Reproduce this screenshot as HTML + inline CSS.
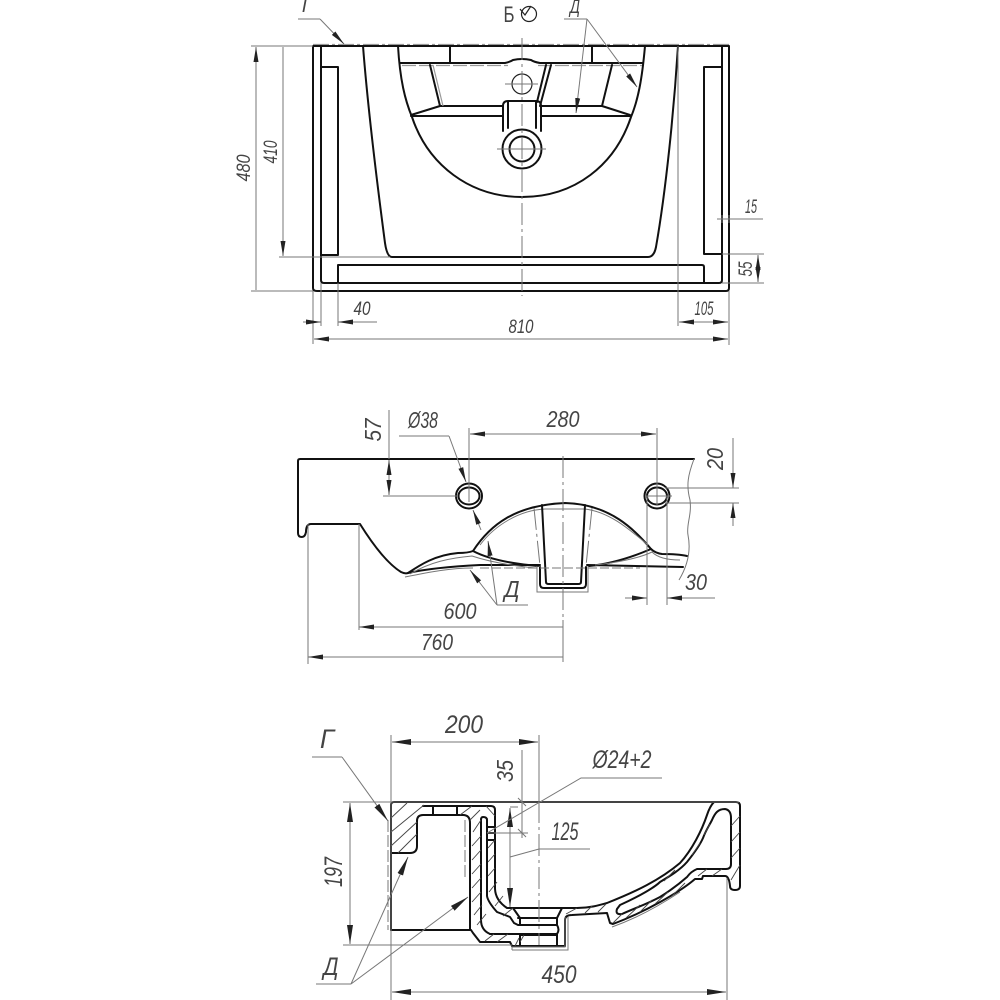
<!DOCTYPE html>
<html><head><meta charset="utf-8"><style>
html,body{margin:0;padding:0;background:#fff}
svg{display:block}
text{font-family:"Liberation Sans","Noto Sans CJK JP",sans-serif;font-style:italic;fill:#444;text-anchor:middle}
.k{fill:none;stroke:#111;stroke-width:2;stroke-linejoin:round;stroke-linecap:round}
.m{fill:none;stroke:#222;stroke-width:1.2}
.t{fill:none;stroke:#777;stroke-width:1}
.g{fill:none;stroke:#999;stroke-width:1.2}
.h{fill:none;stroke:#444;stroke-width:.9}
.d{fill:none;stroke:#777;stroke-width:1;stroke-dasharray:22 4 3 4}
.a{fill:none;stroke:#777;stroke-width:1;marker-end:url(#ar)}
.b{fill:none;stroke:#777;stroke-width:1;marker-end:url(#ar);marker-start:url(#ar)}
.a2{fill:none;stroke:#777;stroke-width:1;marker-end:url(#ar2)}
.b2{fill:none;stroke:#777;stroke-width:1;marker-end:url(#ar2);marker-start:url(#ar2)}
.s{font-size:19px}.n{font-size:23px}.l{font-size:25px}
</style></head><body>
<svg width="1000" height="1000" viewBox="0 0 1000 1000" xmlns="http://www.w3.org/2000/svg">
<defs>
<marker id="ar" markerUnits="userSpaceOnUse" markerWidth="16" markerHeight="6" refX="15" refY="3" orient="auto-start-reverse"><path d="M0,.5L15,3L0,5.500Z" fill="#222"/></marker>
<marker id="ar2" markerUnits="userSpaceOnUse" markerWidth="20" markerHeight="8" refX="19" refY="4" orient="auto-start-reverse"><path d="M0,1L19,4L0,7Z" fill="#222"/></marker>
</defs>

<!-- TOP VIEW -->
<path class="g" stroke-dasharray="16 3 3 3" d="M313,44.500H729"/>
<path class="k" d="M313,46H729V288Q729,291 726,291H317Q313,291 313,288Z"/>
<path class="k" d="M321,46V280Q321,283 324,283H719Q722,283 722,280V46"/>
<path class="k" d="M338,67V255H321M321,67H338M722,67H704V254H722M338,283V265H702Q704,265 704,267V283"/>
<path class="k" d="M363,46C368,110 378,190 385,243Q387,257 392,257H648Q654,257 656,247C666,190 674,110 678,46"/>
<path class="k" d="M398,46C400,80 405,100 412,117C428,165 470,197 522,197C575,197 615,165 631,117C638,100 642,80 645,46"/>
<path class="k" d="M450,46V63M592,46V63M400,63H505Q510,62 513,60Q522,58 531,60Q534,62 540,63H642"/>
<path class="g" stroke-dasharray="14 3" d="M402,65.500H508M538,65.500H642"/>
<path class="k" d="M430,65L440,106H503M411,116H503M411,115L440,106M612,65L602,106H541M541,116H630M630,115L602,106M551,65L540,106M546,65L537,102"/>
<path class="g" d="M433,65L443,106"/>
<path class="k" d="M503,131V106Q503,101 508,101H536Q541,101 541,106V131M508,128V102M536,128V102"/>
<circle class="k" cx="522" cy="149" r="19.500" fill="#fff"/>
<circle class="k" cx="522" cy="149" r="12.500"/>
<circle class="m" cx="522" cy="84" r="10"/>
<path class="d" d="M522,38V296"/>
<path class="t" d="M505,84H538M497,149H546"/>

<path class="t" d="M251,46H313M251,291H313M279,257H390"/>
<path class="b" d="M256,47V290M283,47V256"/>
<text class="s" transform="translate(250,168) rotate(-90)" textLength="27" lengthAdjust="spacingAndGlyphs">480</text>
<text class="s" transform="translate(277,152) rotate(-90)" textLength="23" lengthAdjust="spacingAndGlyphs">410</text>
<path class="t" d="M313,291V344M321,283V326M338,283V326M678,46V326M729,291V345"/>
<path class="a" d="M303,322H321"/><path class="a" d="M377,322H338"/>
<text class="s" x="362" y="315" textLength="17" lengthAdjust="spacingAndGlyphs">40</text>
<path class="b" d="M314,339H728"/>
<text class="s" x="521" y="333" textLength="25" lengthAdjust="spacingAndGlyphs">810</text>
<path class="b" d="M679,322H728"/>
<text class="s" x="704" y="315" textLength="19" lengthAdjust="spacingAndGlyphs">105</text>
<path class="t" d="M717,219H763M722,215V223M729,215V223M722,254H764M722,283H764"/>
<text class="s" x="751" y="213" textLength="12" lengthAdjust="spacingAndGlyphs">15</text>
<path class="b" d="M758,255V282"/>
<text class="s" transform="translate(752,269) rotate(-90)" textLength="15" lengthAdjust="spacingAndGlyphs">55</text>
<path class="t" d="M298,19H320"/><path class="a" d="M320,19L344,44"/>
<text class="s" x="307" y="12">Г</text>
<path class="t" d="M564,19H587"/><path class="a" d="M587,19L637,87"/><path class="a" d="M587,19L576,113"/>
<text class="s" x="575" y="13" textLength="10" lengthAdjust="spacingAndGlyphs">Д</text>
<text x="509" y="22" font-size="22" textLength="11" lengthAdjust="spacingAndGlyphs" style="font-style:normal">Б</text>
<circle cx="529" cy="14" r="7.500" class="m"/><path class="m" d="M520,9L525,15L531,6"/>

<!-- SIDE VIEW -->
<path class="k" d="M694,459H300Q298,459 298,461V533Q298,537 302,537Q305,537 306,532Q306,524 311,524H360C370,540 385,562 401,572Q405,574 408,573C420,565 435,555 458,553Q468,553 473,551C490,525 515,505 565,503C610,504 635,530 651,549Q655,553 662,554Q678,554 687,556"/>
<path class="k" d="M408,573C430,568 460,566 480,565H540M587,565Q640,566 683,567"/>
<path class="k" d="M473,551C490,560 515,564 538,566M589,566C610,564 630,558 651,549"/>
<path class="t" d="M405,577C430,572 450,568 473,568M410,574C430,562 450,558 472,556C490,562 515,566 535,568M480,545C495,525 520,510 545,509H585C610,512 630,530 648,545M595,565C615,563 640,558 652,552Q660,560 680,560"/>
<path class="k" d="M542,505L546,582Q546,584 549,584H578Q581,584 581,582L585,505"/>
<path class="k" d="M540,567V584Q540,588 544,588H582Q586,588 586,584V567"/>
<path class="t" d="M537,566V592H588V566"/>
<path class="t" d="M694,459C688,475 686,485 690,500C692,515 686,525 688,535C691,550 688,565 679,580"/>
<ellipse class="k" cx="469" cy="496" rx="13" ry="12.500"/><ellipse class="k" cx="469" cy="496" rx="10.500" ry="8.500"/>
<ellipse class="k" cx="657" cy="496" rx="12.500" ry="12.500"/><ellipse class="k" cx="657" cy="496" rx="10" ry="8.500"/>
<path class="d" d="M563,456V620"/>
<path class="t" stroke-dasharray="9 3" d="M480,568H640"/>
<path class="d" d="M534,508L540,566M592,508L586,566"/>

<path class="t" d="M469,428V502M657,428V505M647,496V605M667,496V605M359,524V630M308,524V664M563,620V662M383,496H458M645,496H672M665,488H739M665,503H739"/>
<path class="b" d="M470,434H656"/>
<text class="n" x="563" y="427" textLength="33" lengthAdjust="spacingAndGlyphs">280</text>
<path class="t" d="M389,410V459"/><path class="b" d="M389,460V495"/>
<text class="n" transform="translate(381,430) rotate(-90)" textLength="23" lengthAdjust="spacingAndGlyphs">57</text>
<path class="t" d="M399,436H449"/><path class="a" d="M449,436L466,482"/><path class="a" d="M481,530L473,510"/>
<text class="n" x="423" y="428" textLength="30" lengthAdjust="spacingAndGlyphs">Ø38</text>
<path class="a" d="M733,438V488"/><path class="a" d="M733,526V503"/>
<text class="n" transform="translate(723,459) rotate(-90)" textLength="22" lengthAdjust="spacingAndGlyphs">20</text>
<path class="a" d="M625,598H647"/><path class="a" d="M715,598H667"/>
<text class="n" x="696" y="590" textLength="22" lengthAdjust="spacingAndGlyphs">30</text>
<path class="a" d="M563,627H359"/>
<text class="n" x="460" y="619" textLength="33" lengthAdjust="spacingAndGlyphs">600</text>
<path class="a" d="M563,657H308"/>
<text class="n" x="437" y="650" textLength="32" lengthAdjust="spacingAndGlyphs">760</text>
<path class="t" d="M497,605H528"/><path class="a" d="M497,605L488,541"/><path class="a" d="M497,605L470,570"/>
<text class="n" x="512" y="597" textLength="15" lengthAdjust="spacingAndGlyphs">Д</text>

<!-- SECTION VIEW -->
<path class="k" d="M391,930V805Q391,802 394,802H736Q740,802 740,806V886Q740,890 735,890Q730,890 730,886Q729,876 725,876H703L702,879H695C680,892 645,912 613,924L610,923L607,913L572,915Q565,915 565,920V946"/>
<path class="k" d="M391,930H470V823Q470,815 463,815H423Q417,815 417,821V846Q417,853 410,853H391"/>
<path class="k" d="M471,930L473,933L480,942H510L512,946H565M520,918V925M520,935V946M557,918V925M557,934V946M518,918H557M518,925H557Q560,930 557,934H490Q481,930 481,920V820Q481,817 483,817Q487,817 487,820V896Q488,902 497,912L510,917L514,923L518,925"/>
<path class="k" d="M423,806H491Q495,806 495,810V888Q495,900 507,908H513H562L557,918M513,908L520,918M433,806V814M457,806V814M487,827H495M487,833H495M487,840H495M490,934H512M520,935H557"/>
<path class="k" d="M562,908H577C590,908 600,905 607,903C635,892 660,880 680,863C692,850 702,830 707,815Q710,806 714,802"/>
<path class="k" d="M620,905C640,896 655,887 660,882C670,876 680,870 687,862C695,852 700,845 703,838C706,830 709,826 712,820C715,813 718,809 725,809Q731,810 731,818V864Q731,869 726,869H697C690,872 688,876 687,877C678,885 668,892 660,897C645,905 635,908 622,914Q615,915 617,909Z"/>
<path class="t" d="M565,917V947H512V950M568,917V950H512M612,927C640,917 665,902 680,892"/>
<path class="h" d="M391,818L407,803M391,832L424,805M391,846L417,822M398,853L417,834M473,832L481,820M472,846L481,836M472,860L481,850M472,874L481,864M472,888L481,878M472,902L481,892M474,915L482,905M477,925L486,914M486,806L495,816M472,806L460,815M480,810L470,820M488,848L495,840M488,862L495,854M488,876L495,868M489,892L497,882M495,906L503,896M503,916L513,908M485,941L494,934M497,942L508,934M520,942L524,935M515,946L519,938M566,914L577,908M585,913L592,906M598,912L606,904M613,923L622,914M626,918L640,905M640,912L652,900M655,904L668,892M672,896L685,883M698,876L707,869M731,826L740,816M731,842L740,832M731,858L740,848M731,880L740,865M712,876L722,869M664,881L675,870M692,855L700,843M704,835L710,824"/>
<path class="d" d="M539,735V945"/>
<path class="t" stroke-dasharray="12 3" d="M388,820V930M465,820V880"/>
<path class="t" d="M391,735V1000M539,735V802M343,802H739M343,945H512M727,878V1000M487,833H528M510,807H518"/>
<path class="b2" d="M392,742H538"/>
<text class="l" x="464" y="733" textLength="38" lengthAdjust="spacingAndGlyphs">200</text>
<path class="t" d="M522,750V838M518,798L526,806M518,829L526,837"/>
<text class="n" transform="translate(513,771) rotate(-90)" textLength="22" lengthAdjust="spacingAndGlyphs">35</text>
<path class="b2" d="M510,808V907"/>
<path class="t" d="M510,857L539,849H590"/>
<text class="l" x="565" y="840" textLength="27" lengthAdjust="spacingAndGlyphs">125</text>
<path class="t" d="M487,833L581,778H662"/>
<text class="l" x="622" y="768" textLength="59" lengthAdjust="spacingAndGlyphs">Ø24+2</text>
<path class="b2" d="M350,803V944"/>
<text class="l" transform="translate(342,872) rotate(-90)" textLength="30" lengthAdjust="spacingAndGlyphs">197</text>
<path class="b2" d="M392,992H726"/>
<text class="l" x="559" y="983" textLength="35" lengthAdjust="spacingAndGlyphs">450</text>
<path class="t" d="M312,757H342"/><path class="a2" d="M342,757L388,821"/>
<text x="327" y="748" font-size="27" textLength="14" lengthAdjust="spacingAndGlyphs">Г</text>
<path class="t" d="M316,984H351"/><path class="a2" d="M351,984L408,857"/><path class="a2" d="M351,984L468,897"/>
<text class="l" x="331" y="975" textLength="15" lengthAdjust="spacingAndGlyphs">Д</text>
</svg>
</body></html>
